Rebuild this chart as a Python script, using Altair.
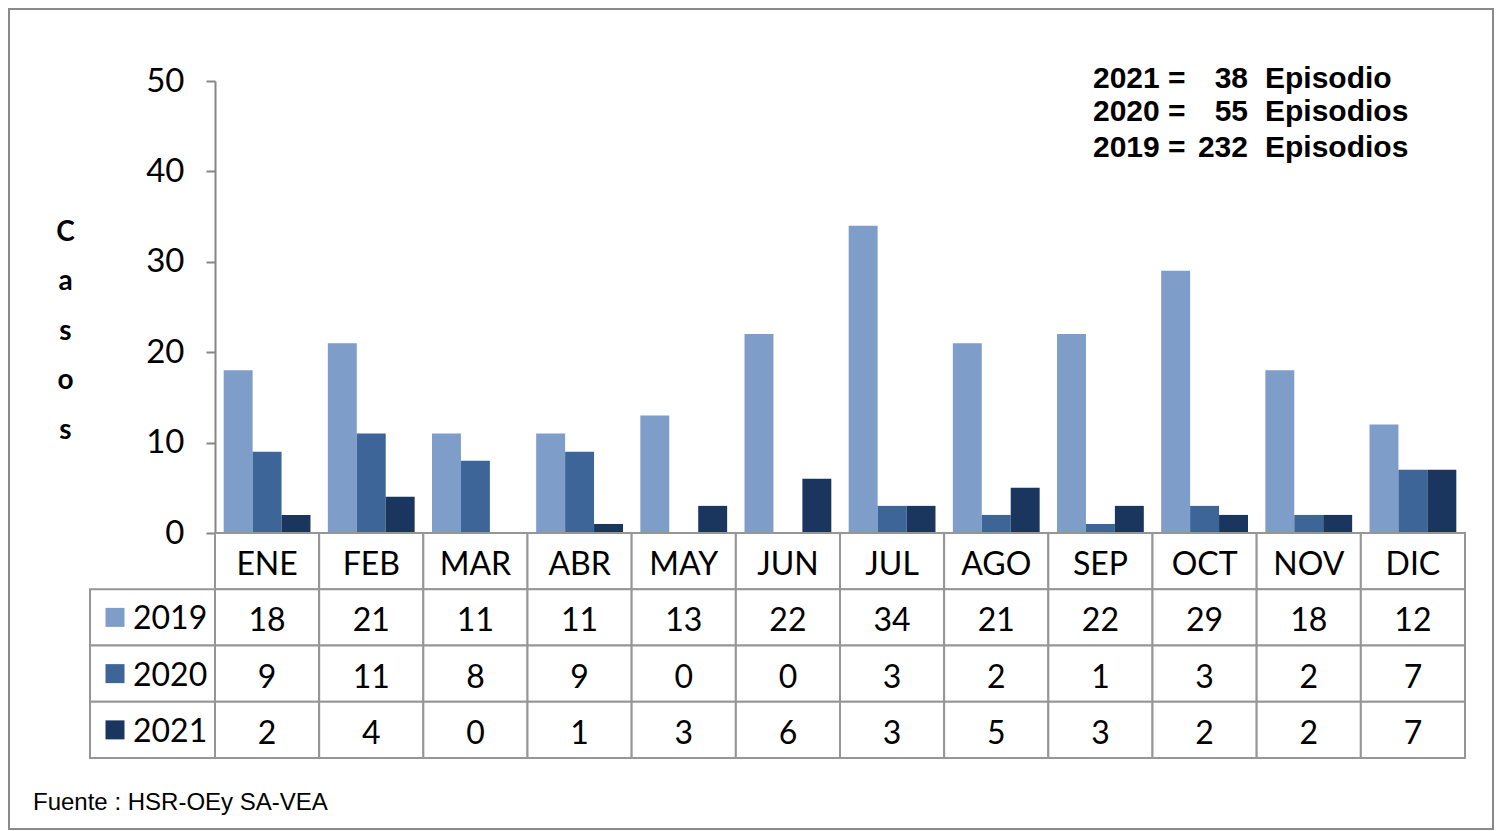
import altair as alt
import pandas as pd

months = ["ENE", "FEB", "MAR", "ABR", "MAY", "JUN", "JUL", "AGO", "SEP", "OCT", "NOV", "DIC"]
years = ["2019", "2020", "2021"]
v2019 = [18, 21, 11, 11, 13, 22, 34, 21, 22, 29, 18, 12]
v2020 = [9, 11, 8, 9, 0, 0, 3, 2, 1, 3, 2, 7]
v2021 = [2, 4, 0, 1, 3, 6, 3, 5, 3, 2, 2, 7]
series = {"2019": v2019, "2020": v2020, "2021": v2021}

note_years = ["2021 =", "2020 =", "2019 ="]
note_totals = ["38", "55", "232"]
note_words = ["Episodio", "Episodios", "Episodios"]
y_title = ["C", "a", "s", "o", "s"]
y_ticks = [0, 10, 20, 30, 40, 50]
source = "Fuente : HSR-OEy SA-VEA"

colors = ["#7E9DC9", "#3D6597", "#1A365E"]
grid = "#969696"
FONT = "Lato"

bar_df = pd.DataFrame(
    [{"month": m, "year": y, "value": v} for y in years for m, v in zip(months, series[y])]
)

cscale = alt.Scale(domain=years, range=colors)
X = alt.X("month:N", sort=months, scale=alt.Scale(domain=months, paddingInner=0, paddingOuter=0), axis=None)

bars = alt.Chart(bar_df).mark_bar().encode(
    x=X,
    xOffset=alt.XOffset("year:N", sort=years, scale=alt.Scale(paddingOuter=0.3, paddingInner=0)),
    y=alt.Y(
        "value:Q",
        scale=alt.Scale(domain=[0, 50], nice=False, zero=True),
        axis=alt.Axis(
            values=y_ticks, grid=False, domainColor="#868686", domainWidth=2,
            tickColor="#868686", tickWidth=2, tickSize=9, labelPadding=22,
            labelFont=FONT, labelFontSize=33, labelColor="black",
            title=y_title, titleAngle=0, titleFont=FONT, titleFontSize=28,
            titleFontWeight="bold", titleColor="black", titleLineHeight=49.5,
            titleX=-150, titleY=137, titleAlign="center", titleBaseline="top",
        ),
    ),
    color=alt.Color("year:N", scale=cscale, legend=None),
)

frame = alt.Chart(pd.DataFrame({"f": [0]})).mark_rect(
    fillOpacity=0, stroke="#8a8a8a", strokeWidth=2
).encode(x=alt.value(-206), x2=alt.value(1278), y=alt.value(-72), y2=alt.value(748))

note_layers = []
baselines = [7, 40, 76]
for i in range(3):
    d = pd.DataFrame({"a": [note_years[i]], "b": [note_totals[i]], "c": [note_words[i]]})
    base = alt.Chart(d)
    note_layers.append(base.mark_text(align="left", baseline="alphabetic", font="Liberation Sans",
                                      fontWeight="bold", fontSize=30, color="black")
                       .encode(x=alt.value(878), y=alt.value(baselines[i]), text="a:N"))
    note_layers.append(base.mark_text(align="right", baseline="alphabetic", font="Liberation Sans",
                                      fontWeight="bold", fontSize=30, color="black")
                       .encode(x=alt.value(1033), y=alt.value(baselines[i]), text="b:N"))
    note_layers.append(base.mark_text(align="left", baseline="alphabetic", font="Liberation Sans",
                                      fontWeight="bold", fontSize=30, color="black")
                       .encode(x=alt.value(1050), y=alt.value(baselines[i]), text="c:N"))

top = alt.layer(bars, frame, *note_layers).properties(width=1250, height=452)

row_order = ["hdr"] + years
rows = [{"month": m, "row": "hdr", "text": m} for m in months]
for y in years:
    rows += [{"month": m, "row": y, "text": str(v)} for m, v in zip(months, series[y])]
tab_df = pd.DataFrame(rows)
left_df = pd.DataFrame({"row": years, "year": years})

Y = alt.Y("row:N", sort=row_order, scale=alt.Scale(domain=row_order, paddingInner=0, paddingOuter=0), axis=None)

cells = alt.Chart(tab_df).mark_rect(fill="white", stroke=grid, strokeWidth=2).encode(x=X, y=Y)
cell_text = alt.Chart(tab_df).mark_text(font=FONT, fontSize=32, color="black", dy=4).encode(
    x=X, y=Y, text="text:N")
left_cells = alt.Chart(left_df).mark_rect(fill="white", stroke=grid, strokeWidth=2).encode(
    x=alt.value(-125), x2=alt.value(0), y=Y)
squares = alt.Chart(left_df).mark_square(size=361, opacity=1).encode(
    x=alt.value(-100), y=Y, color=alt.Color("year:N", scale=cscale, legend=None))
left_text = alt.Chart(left_df).mark_text(align="left", font=FONT, fontSize=32, color="black", dy=2).encode(
    x=alt.value(-82), y=Y, text="row:N")
footer = alt.Chart(pd.DataFrame({"t": [source]})).mark_text(
    align="left", baseline="alphabetic", font="Liberation Sans", fontSize=24, color="black"
).encode(x=alt.value(-182), y=alt.value(277), text="t:N")

table = alt.layer(cells, cell_text, left_cells, squares, left_text, footer).properties(width=1250, height=225)

chart = alt.vconcat(top, table, spacing=0, bounds="flush").properties(padding=0).configure_view(strokeWidth=0)

chart.save("out.html", embed_options={"renderer": "svg", "actions": False})
